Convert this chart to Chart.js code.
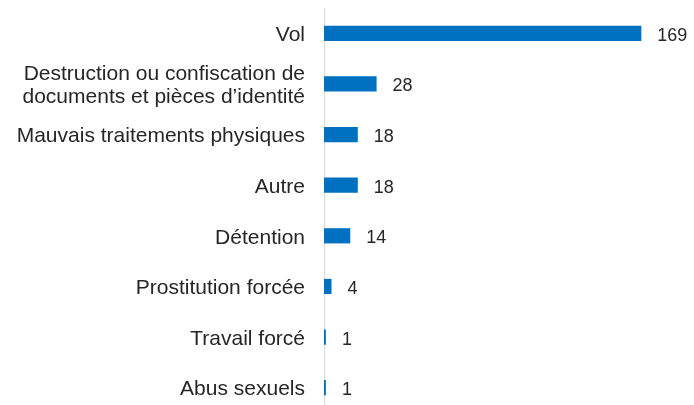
<!DOCTYPE html>
<html>
<head>
<meta charset="utf-8">
<script src="https://cdn.jsdelivr.net/npm/chart.js@4/dist/chart.umd.min.js"></script>
<style>
  html, body { margin: 0; padding: 0; background: #fff; overflow: hidden; }
  #wrap { width: 694px; height: 413px; position: relative; }
</style>
</head>
<body>
<div id="wrap"><canvas id="chart"></canvas></div>
<script>
// Violations signalées, par type
const categories = [
    'Vol',
    ['Destruction ou confiscation de', 'documents et pièces d\u2019identité'],
    'Mauvais traitements physiques',
    'Autre',
    'Détention',
    'Prostitution forcée',
    'Travail forcé',
    'Abus sexuels'
];
const counts = [169, 28, 18, 18, 14, 4, 1, 1];

const barColor = '#0070c0';
const textColor = '#262626';
const fontFamily = '"Liberation Sans", Arial, sans-serif';

// value labels at the end of each bar
const valueLabels = {
    id: 'valueLabels',
    afterDatasetsDraw(chart) {
        const ctx = chart.ctx;
        const meta = chart.getDatasetMeta(0);
        ctx.save();
        ctx.font = '18px ' + fontFamily;
        ctx.fillStyle = textColor;
        ctx.textAlign = 'left';
        ctx.textBaseline = 'middle';
        meta.data.forEach((bar, i) => {
            ctx.fillText(String(counts[i]), bar.x + 16, bar.y + 2.5);
        });
        ctx.restore();
    }
};

new Chart(document.getElementById('chart'), {
    type: 'bar',
    data: {
        labels: categories,
        datasets: [{
            data: counts,
            backgroundColor: barColor,
            borderWidth: 0,
            barPercentage: 0.6,
            categoryPercentage: 0.5
        }]
    },
    options: {
        indexAxis: 'y',
        responsive: true,
        maintainAspectRatio: false,
        animation: false,
        layout: { padding: { top: 8, right: 32, bottom: 0, left: 0 } },
        plugins: {
            legend: { display: false },
            tooltip: { enabled: false }
        },
        scales: {
            x: {
                display: false,
                min: 0,
                max: 180
            },
            y: {
                grid: { display: false, drawTicks: false },
                border: { display: true, color: '#d9d9d9', width: 1 },
                ticks: {
                    color: textColor,
                    padding: 19,
                    labelOffset: 2,
                    font: { size: 21, family: fontFamily, lineHeight: 1.1 }
                },
                afterFit(scale) {
                    scale.width = 324;
                    scale.paddingTop = 0;
                    scale.paddingBottom = 0;
                }
            }
        }
    },
    plugins: [valueLabels]
});
</script>
</body>
</html>
